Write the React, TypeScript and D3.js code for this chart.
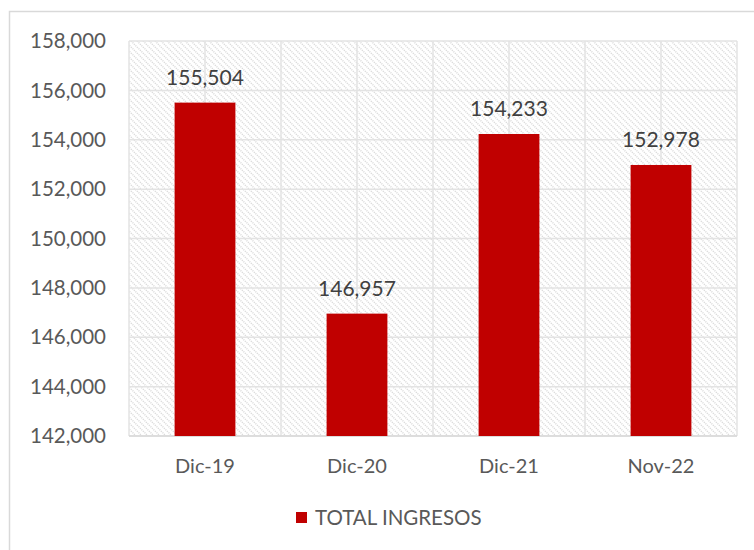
import React from "react";
import * as d3 from "d3";

const categories = ["Dic-19", "Dic-20", "Dic-21", "Nov-22"];
const values = [155504, 146957, 154233, 152978];
const yTicks = [142000, 144000, 146000, 148000, 150000, 152000, 154000, 156000, 158000];
const seriesName = "TOTAL INGRESOS";

const W = 754;
const H = 550;
const M = { left: 129, right: 737, top: 41, bottom: 436 };
const FONT = "Lato, 'Open Sans', 'Liberation Sans', sans-serif";
const fmt = d3.format(",");

export default function App() {
  const x = d3.scaleBand<string>().domain(categories).range([M.left, M.right]).paddingInner(0.6).paddingOuter(0.3);
  const xOuter = d3.scaleBand<string>().domain(categories).range([M.left, M.right]);
  const y = d3.scaleLinear().domain([142000, 158000]).range([M.bottom, M.top]);
  const vLines: number[] = [];
  categories.forEach((c) => {
    vLines.push(xOuter(c)!, xOuter(c)! + xOuter.bandwidth() / 2);
  });
  vLines.push(M.right);

  return (
    <svg width={W} height={H} style={{ position: "absolute", left: 0, top: 0, background: "#fff" }}>
      <defs>
        <pattern id="hatch" width="6" height="6" patternUnits="userSpaceOnUse">
          <path d="M-1,-1 L7,7 M-4,2 L4,10 M2,-4 L10,4" stroke="#d9d9d9" strokeWidth="1.5" strokeDasharray="1.2 0.9" />
        </pattern>
      </defs>
      <rect x={9.5} y={11.5} width={W + 20} height={H + 20} fill="#fff" stroke="#d9d9d9" strokeWidth={1.5} />
      <rect x={M.left} y={M.top} width={M.right - M.left} height={M.bottom - M.top} fill="url(#hatch)" />
      {yTicks.map((t) => (
        <line key={"h" + t} x1={M.left} x2={M.right} y1={y(t)} y2={y(t)} stroke="#e3e3e3" strokeWidth={1.5} />
      ))}
      {vLines.map((v, i) => (
        <line key={"v" + i} x1={v} x2={v} y1={M.top} y2={M.bottom} stroke="#e3e3e3" strokeWidth={1.5} />
      ))}
      <line x1={M.left} x2={M.right} y1={M.bottom} y2={M.bottom} stroke="#d9d9d9" strokeWidth={1.5} />
      {yTicks.map((t) => (
        <text key={"yl" + t} x={106} y={y(t)} dy="0.35em" textAnchor="end" fontFamily={FONT} fontSize={20.5} fill="#595959">
          {fmt(t)}
        </text>
      ))}
      {categories.map((c, i) => (
        <g key={c}>
          <rect x={x(c)} y={y(values[i])} width={x.bandwidth()} height={M.bottom - y(values[i])} fill="#C00000" />
          <text x={x(c)! + x.bandwidth() / 2} y={y(values[i]) - 25} dy="0.35em" textAnchor="middle" fontFamily={FONT} fontSize={21} fill="#404040">
            {fmt(values[i])}
          </text>
          <text x={x(c)! + x.bandwidth() / 2} y={466} dy="0.35em" textAnchor="middle" fontFamily={FONT} fontSize={20} fill="#595959">
            {c}
          </text>
        </g>
      ))}
      <rect x={296} y={512} width={11} height={11} fill="#C00000" />
      <text x={315} y={518} dy="0.35em" fontFamily={FONT} fontSize={20.5} fill="#595959">
        {seriesName}
      </text>
    </svg>
  );
}
